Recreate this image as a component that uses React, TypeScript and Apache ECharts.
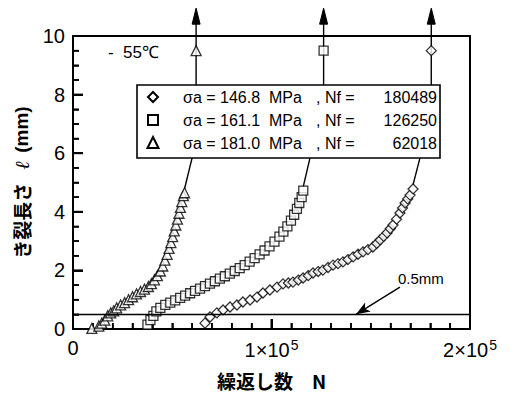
import React, { useEffect, useRef } from "react";
import * as echarts from "echarts";

// ---- data (cycles N, crack length l in mm) ----
const triangleN = [9500, 13000, 14500, 16000, 17500, 19000, 20500, 22000, 24000, 26000, 28000, 30000, 32000, 34000, 36000, 38000, 39500, 41000, 42500, 44000, 45200, 46300, 47400, 48400, 49300, 50200, 51000, 51800, 52600, 53400, 54100, 54800, 55600, 56200];
const triangleL = [0.02, 0.1, 0.2, 0.3, 0.45, 0.55, 0.62, 0.72, 0.82, 0.9, 1.0, 1.1, 1.2, 1.28, 1.36, 1.45, 1.55, 1.68, 1.82, 1.98, 2.15, 2.35, 2.55, 2.75, 2.95, 3.15, 3.35, 3.55, 3.75, 3.95, 4.15, 4.35, 4.55, 4.65];

const squareN = [37500, 39000, 40500, 42000, 44000, 46500, 49000, 51500, 54000, 56500, 59000, 61500, 64000, 66500, 69000, 71500, 74000, 76500, 79000, 81500, 84000, 86500, 89000, 91500, 94000, 96500, 99000, 101500, 104000, 106000, 108000, 109800, 111400, 112800, 114000, 115200, 116000];
const squareL = [0.15, 0.3, 0.45, 0.6, 0.72, 0.82, 0.9, 0.98, 1.06, 1.14, 1.22, 1.3, 1.38, 1.46, 1.55, 1.63, 1.72, 1.8, 1.89, 1.98, 2.08, 2.18, 2.3, 2.42, 2.55, 2.68, 2.82, 2.98, 3.15, 3.32, 3.5, 3.7, 3.9, 4.1, 4.3, 4.5, 4.72];

const diamondN = [66500, 69000, 72500, 75600, 79100, 82600, 85600, 89200, 92700, 95700, 99200, 102800, 105800, 108500, 110800, 113500, 115900, 118500, 120900, 123500, 125900, 128500, 131000, 133500, 136000, 138500, 141100, 143600, 146100, 148600, 151100, 153000, 154700, 156500, 158200, 159800, 161200, 163000, 164700, 166000, 167300, 168600, 169800, 171300];
const diamondL = [0.2, 0.41, 0.55, 0.65, 0.75, 0.82, 0.92, 0.99, 1.09, 1.23, 1.33, 1.43, 1.54, 1.57, 1.6, 1.67, 1.74, 1.82, 1.91, 1.96, 2.01, 2.1, 2.18, 2.23, 2.29, 2.37, 2.46, 2.55, 2.63, 2.71, 2.8, 2.92, 3.04, 3.16, 3.28, 3.42, 3.55, 3.75, 3.96, 4.13, 4.3, 4.44, 4.57, 4.78];

const stressMPa = ["146.8", "161.1", "181.0"];
const failN = [180489, 126250, 62018];
const failL = 9.5;
const leaderN = [174800, 119400, 60000];
const xTickValues = [0, 100000, 200000];
const yTickValues = [0, 2, 4, 6, 8, 10];
const xMinorStep = 10000;
const yMinorStep = 0.5;
const thresholdL = 0.5;

const FONT = '"Liberation Sans", Arial, sans-serif';
const JFONT = '"Noto Sans CJK JP", sans-serif';

export default function App() {
  const ref = useRef<HTMLDivElement>(null);
  useEffect(() => {
    if (!ref.current) return;
    const chart = echarts.init(ref.current, null, { renderer: "svg" });
    const mk = (ns: number[], ls: number[], nf: number) => [...ns.map((n, i) => [n, ls[i]]), [nf, failL]];
    const markerStyle = { color: "#fff", borderColor: "#000", borderWidth: 1.3 };
    const lastIdx = [diamondN.length - 1, squareN.length - 1, triangleN.length - 1];
    const lasts = [
      [diamondN[lastIdx[0]], diamondL[lastIdx[0]]],
      [squareN[lastIdx[1]], squareL[lastIdx[1]]],
      [triangleN[lastIdx[2]], triangleL[lastIdx[2]]],
    ];
    const annotData = failN.map((nf, i) => [nf, lasts[i][0], lasts[i][1], leaderN[i]]);
    const BOX_TOP_L = 8.33;
    const BOX_BOT_L = 5.84;
    const ARROW_TOP_L = 10.95;

    // tick lists along each axis: [value, major?]
    const xTicks: number[][] = [];
    for (let k = 1; k * xMinorStep < 200000; k++) {
      const v = k * xMinorStep;
      xTicks.push([v, xTickValues.indexOf(v) >= 0 ? 1 : 0]);
    }
    const yTicks: number[][] = [];
    for (let k = 1; k * yMinorStep < 10; k++) {
      const v = k * yMinorStep;
      yTicks.push([v, yTickValues.indexOf(v) >= 0 ? 1 : 0]);
    }

    const lx = 137, ly = 85, lw = 303, lh = 73;
    const rowY = [ly + 12, ly + 35, ly + 58];
    const sx = 153;
    const legendGraphics: any[] = [
      { type: "rect", shape: { x: lx, y: ly, width: lw, height: lh }, style: { fill: "#fff", stroke: "#000", lineWidth: 1.6 }, z: 10 },
      { type: "polygon", shape: { points: [[sx, rowY[0] - 5], [sx + 5, rowY[0]], [sx, rowY[0] + 5], [sx - 5, rowY[0]]] }, style: { fill: "#fff", stroke: "#000", lineWidth: 2 }, z: 11 },
      { type: "rect", shape: { x: sx - 5, y: rowY[1] - 5, width: 10, height: 10 }, style: { fill: "#fff", stroke: "#000", lineWidth: 2 }, z: 11 },
      { type: "polygon", shape: { points: [[sx, rowY[2] - 6], [sx + 5.5, rowY[2] + 5], [sx - 5.5, rowY[2] + 5]] }, style: { fill: "#fff", stroke: "#000", lineWidth: 2 }, z: 11 },
    ];
    stressMPa.forEach((s, i) => {
      legendGraphics.push({ type: "text", x: 183, y: rowY[i], z: 11, style: { text: `σa = ${s}  MPa`, fontSize: 16, fontFamily: FONT, fill: "#000", verticalAlign: "middle", align: "left" } });
      legendGraphics.push({ type: "text", x: 316, y: rowY[i], z: 11, style: { text: ", Nf =", fontSize: 16, fontFamily: FONT, fill: "#000", verticalAlign: "middle", align: "left" } });
      legendGraphics.push({ type: "text", x: 437, y: rowY[i], z: 11, style: { text: String(failN[i]), fontSize: 16, fontFamily: FONT, fill: "#000", verticalAlign: "middle", align: "right" } });
    });

    const frameAxis = { axisLine: { show: true, onZero: false, lineStyle: { color: "#000", width: 2 } }, axisTick: { show: false }, axisLabel: { show: false }, splitLine: { show: false } };

    chart.setOption({
      animation: false,
      backgroundColor: "#fff",
      grid: { left: 73, right: 44, top: 36, bottom: 67 },
      xAxis: [{
        type: "value", min: 0, max: 200000, interval: 100000,
        name: "繰返し数　N", nameLocation: "middle", nameGap: 42,
        nameTextStyle: { fontFamily: JFONT, fontWeight: "bold", fontSize: 19, color: "#000" },
        axisLine: { show: true, onZero: false, lineStyle: { color: "#000", width: 2 } },
        axisTick: { show: true, inside: true, length: 10, lineStyle: { color: "#000", width: 2 } },
        minorTick: { show: true, splitNumber: 10, length: 6, lineStyle: { color: "#000", width: 1.6 } },
        splitLine: { show: false },
        axisLabel: {
          show: true, margin: 9, color: "#000", fontFamily: FONT, fontSize: 20,
          formatter: (v: number) => (v === xTickValues[0] ? "0" : `{n|${v / 100000}×10}{s|5}`),
          rich: { n: { fontSize: 20, fontFamily: FONT, color: "#000", lineHeight: 24 }, s: { fontSize: 14, fontFamily: FONT, color: "#000", verticalAlign: "top", lineHeight: 24, padding: [0, 0, 0, 1] } },
        },
      }, { type: "value", position: "top", min: 0, max: 200000, ...frameAxis }],
      yAxis: [{
        type: "value", min: 0, max: 10, interval: 2,
        name: "{j|き裂長さ}   {l|ℓ}  {m|(mm)}", nameLocation: "middle", nameGap: 38,
        nameTextStyle: {
          fontFamily: JFONT, fontWeight: "bold", fontSize: 19, color: "#000",
          rich: {
            j: { fontFamily: JFONT, fontWeight: "bold", fontSize: 19, color: "#000" },
            l: { fontFamily: '"DejaVu Serif", serif', fontStyle: "italic", fontWeight: "normal", fontSize: 20, color: "#000" },
            m: { fontFamily: FONT, fontWeight: "bold", fontSize: 19, color: "#000" },
          },
        },
        axisLine: { show: true, onZero: false, lineStyle: { color: "#000", width: 2 } },
        axisTick: { show: true, inside: true, length: 10, lineStyle: { color: "#000", width: 2 } },
        minorTick: { show: true, splitNumber: 4, length: 6, lineStyle: { color: "#000", width: 1.6 } },
        splitLine: { show: false },
        axisLabel: { show: true, margin: 8, color: "#000", fontFamily: FONT, fontSize: 20 },
      }, { type: "value", position: "right", min: 0, max: 10, ...frameAxis }],
      graphic: [
        { type: "text", x: 108, y: 52, style: { text: "-  55℃", fontSize: 17, fontFamily: FONT, fill: "#000", verticalAlign: "middle" } },
        { type: "text", x: 398, y: 278, style: { text: "0.5mm", fontSize: 15, fontFamily: FONT, fill: "#000", verticalAlign: "middle" } },
        ...legendGraphics,
      ],
      series: [
        {
          type: "custom", clip: false, z: 1, silent: true,
          data: annotData,
          renderItem: (params: any, api: any) => {
            const nf = api.value(0), ln = api.value(1), ll = api.value(2), lead = api.value(3);
            const top = api.coord([nf, ARROW_TOP_L]);
            const bt = api.coord([nf, BOX_TOP_L]);
            const bb = api.coord([lead, BOX_BOT_L]);
            const last = api.coord([ln, ll]);
            const st = { stroke: "#000", lineWidth: 1.4, fill: null };
            const children: any[] = [
              { type: "line", shape: { x1: bt[0], y1: bt[1], x2: top[0], y2: top[1] + 12 }, style: st },
              { type: "polygon", shape: { points: [[top[0], top[1]], [top[0] + 4, top[1] + 16], [top[0] - 4, top[1] + 16]] }, style: { fill: "#000", stroke: "#000", lineWidth: 1 } },
              { type: "line", shape: { x1: bb[0], y1: bb[1], x2: last[0], y2: last[1] - 4 }, style: st },
            ];
            if (params.dataIndex === 0) {
              xTicks.forEach(([v, major]) => {
                const p = api.coord([v, 0]);
                children.push({ type: "line", shape: { x1: p[0], y1: p[1], x2: p[0], y2: p[1] - (major ? 10 : 6) }, style: { stroke: "#000", lineWidth: major ? 2 : 1.6, fill: null } });
              });
              yTicks.forEach(([v, major]) => {
                const p = api.coord([0, v]);
                children.push({ type: "line", shape: { x1: p[0], y1: p[1], x2: p[0] + (major ? 10 : 6), y2: p[1] }, style: { stroke: "#000", lineWidth: major ? 2 : 1.6, fill: null } });
              });
            }
            return { type: "group", children };
          },
        },
        {
          type: "scatter", name: "diamond", symbol: "diamond", symbolSize: 10, clip: false, z: 3,
          itemStyle: markerStyle, data: mk(diamondN, diamondL, failN[0]),
          markLine: {
            silent: true, symbol: "none", animation: false,
            label: { show: false },
            lineStyle: { color: "#000", type: "solid", width: 1.4 },
            data: [
              { yAxis: thresholdL },
              [{ coord: [164700, 1.43], symbol: "none" }, { coord: [142600, thresholdL], symbol: "arrow", symbolSize: [8, 14] }],
            ],
          },
        },
        { type: "scatter", name: "square", symbol: "rect", symbolSize: 9, clip: false, z: 3, itemStyle: markerStyle, data: mk(squareN, squareL, failN[1]) },
        { type: "scatter", name: "triangle", symbol: "triangle", symbolSize: 10, clip: false, z: 3, itemStyle: markerStyle, data: mk(triangleN, triangleL, failN[2]) },
      ],
    });
    return () => chart.dispose();
  }, []);
  return <div ref={ref} style={{ position: "fixed", left: 0, top: 0, width: 514, height: 396, background: "#fff" }} />;
}
